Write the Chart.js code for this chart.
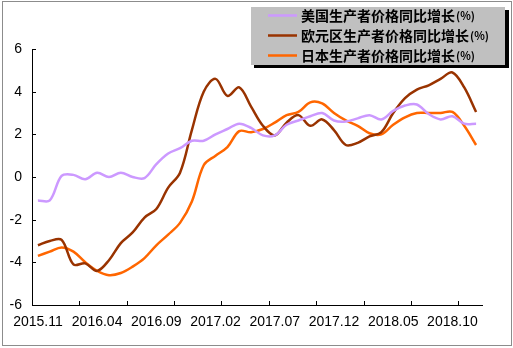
<!DOCTYPE html>
<html>
<head>
<meta charset="utf-8">
<script src="https://cdn.jsdelivr.net/npm/chart.js@4/dist/chart.umd.min.js"></script>
<style>
  html, body { margin: 0; padding: 0; background: #fff; }
  #wrap { width: 513px; height: 348px; position: relative; }
</style>
</head>
<body>
<div id="wrap"><canvas id="chart" width="513" height="348"></canvas></div>
<script>
// months 2015.11 - 2018.12
const months = [
  "2015.11", "2015.12",
  "2016.01", "2016.02", "2016.03", "2016.04", "2016.05", "2016.06",
  "2016.07", "2016.08", "2016.09", "2016.10", "2016.11", "2016.12",
  "2017.01", "2017.02", "2017.03", "2017.04", "2017.05", "2017.06",
  "2017.07", "2017.08", "2017.09", "2017.10", "2017.11", "2017.12",
  "2018.01", "2018.02", "2018.03", "2018.04", "2018.05", "2018.06",
  "2018.07", "2018.08", "2018.09", "2018.10", "2018.11", "2018.12"
];

const usPpi = [
  -1.1, -1.1, 0.05, 0.1, -0.1, 0.2, 0.0, 0.2, 0.0, -0.05,
  0.6, 1.1, 1.35, 1.7, 1.7, 2.0, 2.25, 2.5, 2.3, 1.95,
  1.95, 2.45, 2.65, 2.85, 3.0, 2.65, 2.6, 2.75, 2.9, 2.7,
  3.1, 3.35, 3.4, 2.95, 2.7, 2.85, 2.5, 2.5
];

const euroPpi = [
  -3.2, -3.0, -2.95, -4.1, -4.05, -4.4, -3.9, -3.1, -2.6, -1.9,
  -1.5, -0.5, 0.2, 2.2, 4.0, 4.6, 3.8, 4.2, 3.3, 2.4,
  1.95, 2.55, 2.9, 2.4, 2.7, 2.2, 1.5, 1.6, 1.9, 2.1,
  3.0, 3.7, 4.1, 4.3, 4.6, 4.9, 4.2, 3.05
];

const japanPpi = [
  -3.7, -3.5, -3.3, -3.5, -4.0, -4.4, -4.6, -4.5, -4.2, -3.8,
  -3.2, -2.7, -2.15, -1.15, 0.55, 1.0, 1.4, 2.15, 2.1, 2.25,
  2.55, 2.9, 3.05, 3.5, 3.45, 3.0, 2.65, 2.4, 2.05, 2.0,
  2.45, 2.8, 3.0, 3.0, 3.0, 3.05, 2.4, 1.5
];

const seriesNames = [
  "美国生产者价格同比增长(%)",
  "欧元区生产者价格同比增长(%)",
  "日本生产者价格同比增长(%)"
];

const yTicks = [-6, -4, -2, 0, 2, 4, 6];

// inward tick marks + outer frame + grey legend box
const extras = {
  id: "extras",
  afterDraw(chart) {
    const ctx = chart.ctx;
    const x = chart.scales.x;
    const y = chart.scales.y;
    ctx.save();

    ctx.strokeStyle = "#000";
    ctx.lineWidth = 1;
    const half = (x.getPixelForValue(1) - x.getPixelForValue(0)) / 2;
    for (let i = 0; i < months.length; i += 4) {
      const px = Math.round(x.getPixelForValue(i) - half) + 0.5;
      ctx.beginPath();
      ctx.moveTo(px, y.bottom);
      ctx.lineTo(px, y.bottom - 4);
      ctx.stroke();
    }
    yTicks.forEach(v => {
      const py = Math.round(y.getPixelForValue(v)) + 0.5;
      ctx.beginPath();
      ctx.moveTo(x.left, py);
      ctx.lineTo(x.left + 4, py);
      ctx.stroke();
    });

    // frame
    ctx.strokeStyle = "#8c8c8c";
    ctx.strokeRect(2.5, 1.5, 509, 344);

    // legend
    ctx.fillStyle = "#000";
    ctx.fillRect(254, 10, 255, 58);
    ctx.fillStyle = "#c0c0c0";
    ctx.fillRect(251, 7, 254, 58);
    chart.data.datasets.forEach((ds, i) => {
      const ly = 15.5 + i * 20;
      ctx.strokeStyle = ds.borderColor;
      ctx.lineWidth = 2.5;
      ctx.beginPath();
      ctx.moveTo(268, ly);
      ctx.lineTo(297, ly);
      ctx.stroke();
      const main = ds.label.replace("(%)", "");
      ctx.fillStyle = "#000";
      ctx.textBaseline = "middle";
      ctx.font = "bold 14px 'Noto Sans CJK SC'";
      ctx.fillText(main, 301, ly);
      const w = ctx.measureText(main).width;
      ctx.font = "bold 11px 'Noto Sans CJK SC'";
      ctx.fillText("(%)", 301 + w + 1, ly);
    });
    ctx.restore();
  }
};

new Chart(document.getElementById("chart"), {
  type: "line",
  data: {
    labels: months,
    datasets: [
      { label: seriesNames[0], data: usPpi, borderColor: "#cc99ff" },
      { label: seriesNames[1], data: euroPpi, borderColor: "#993300" },
      { label: seriesNames[2], data: japanPpi, borderColor: "#ff6600" }
    ].map(d => Object.assign(d, { borderWidth: 2.5, pointRadius: 0, tension: 0.35, fill: false }))
  },
  options: {
    responsive: false,
    animation: false,
    layout: { padding: { top: 49, right: 31, left: 0, bottom: 0 } },
    plugins: { legend: { display: false }, tooltip: { enabled: false } },
    scales: {
      x: {
        offset: true,
        grid: { display: false, drawTicks: false },
        border: { display: true, color: "#000", width: 1 },
        afterFit: s => { s.height = 43; },
        ticks: {
          autoSkip: false,
          maxRotation: 0,
          padding: 9,
          color: "#000",
          font: { family: "'Liberation Sans', Arial", size: 14 },
          callback: (v, i) => (i % 5 === 0 ? months[i] : "")
        }
      },
      y: {
        min: -6,
        max: 6,
        afterFit: s => { s.width = 32; },
        grid: { display: false, drawTicks: false },
        border: { display: true, color: "#000", width: 1 },
        afterBuildTicks: s => { s.ticks = yTicks.map(v => ({ value: v })); },
        ticks: {
          padding: 10,
          color: "#000",
          font: { family: "'Liberation Sans', Arial", size: 14 }
        }
      }
    }
  },
  plugins: [extras]
});
</script>
</body>
</html>
